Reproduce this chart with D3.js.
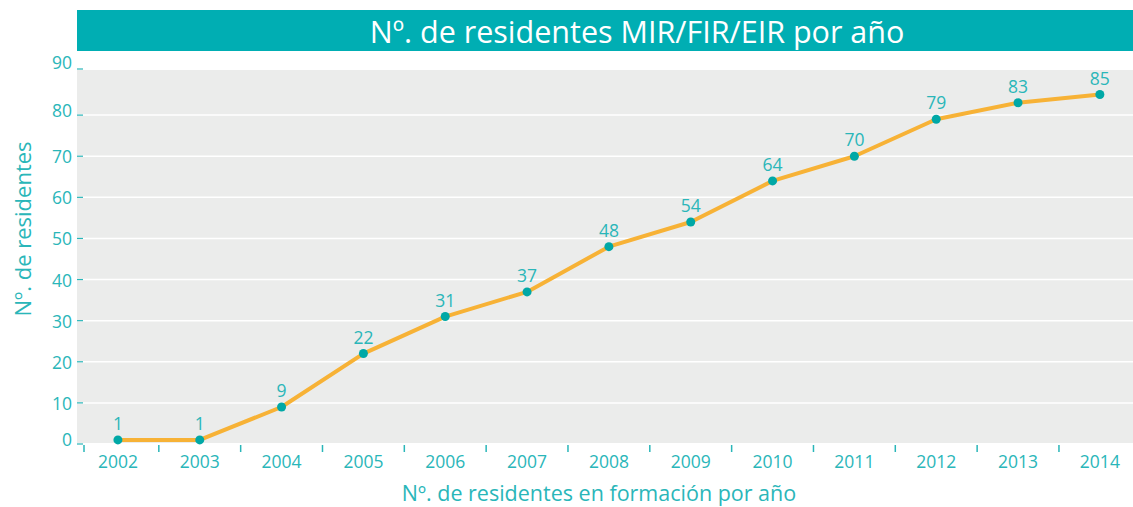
<!DOCTYPE html>
<html>
<head>
<meta charset="utf-8">
<script src="https://cdn.jsdelivr.net/npm/d3@7"></script>
<style>
  body { margin: 0; background: #fff; }
  svg { display: block; font-family: "Open Sans", sans-serif; }
</style>
</head>
<body>
<svg id="chart" width="1133" height="507"></svg>
<script>
// data
var years = ['2002', '2003', '2004', '2005', '2006', '2007', '2008', '2009', '2010', '2011', '2012', '2013', '2014']
var residents = [1, 1, 9, 22, 31, 37, 48, 54, 64, 70, 79, 83, 85]
var yTicks = [0, 10, 20, 30, 40, 50, 60, 70, 80, 90]
var title = 'Nº. de residentes MIR/FIR/EIR por año'
var xTitle = 'Nº. de residentes en formación por año'
var yTitle = 'Nº. de residentes'

// colors
var colorTeal = '#00aeb3'
var colorText = '#2ab6b9'
var colorLine = '#f7b236'
var colorDot = '#00a8a6'
var colorPlot = '#ebeceb'

var svg = d3.select('#chart')
var plotLeft = 77, plotTop = 70, plotBottom = 443, plotRight = 1133

var x = d3.scaleBand().domain(years).range([plotLeft, plotLeft + 13 * 81.83])
var y = d3.scaleLinear().domain([0, 90]).range([444, 74])

// title bar
svg.append('rect')
  .attr('x', plotLeft).attr('y', 10).attr('width', plotRight - plotLeft).attr('height', 41)
  .attr('fill', colorTeal)
svg.append('text')
  .attr('x', 637).attr('y', 31)
  .attr('text-anchor', 'middle').attr('dominant-baseline', 'central')
  .attr('fill', '#fff').attr('font-size', 30.5)
  .text(title)

// plot background
svg.append('rect')
  .attr('x', plotLeft).attr('y', plotTop).attr('width', plotRight - plotLeft).attr('height', plotBottom - plotTop)
  .attr('fill', colorPlot)

// gridlines
svg.selectAll('.grid')
  .data(yTicks.filter(function(d) { return d > 0 && d < 90 }))
  .enter().append('line')
  .attr('x1', plotLeft).attr('x2', plotRight)
  .attr('y1', function(d) { return y(d) }).attr('y2', function(d) { return y(d) })
  .attr('stroke', '#fff').attr('stroke-width', 1.5)

// y axis ticks + labels
var yAxis = svg.append('g')
yAxis.selectAll('line')
  .data(yTicks)
  .enter().append('line')
  .attr('x1', plotLeft).attr('x2', plotLeft + 6)
  .attr('y1', function(d) { return d === 90 ? plotTop - 1 : y(d) })
  .attr('y2', function(d) { return d === 90 ? plotTop - 1 : y(d) })
  .attr('stroke', colorText).attr('stroke-width', 1.2)
yAxis.selectAll('text')
  .data(yTicks)
  .enter().append('text')
  .attr('x', 72)
  .attr('y', function(d) { return d === 90 ? plotTop - 8 : d === 0 ? y(d) - 5 : d === 80 ? y(d) - 5 : y(d) })
  .attr('text-anchor', 'end').attr('dominant-baseline', 'central')
  .attr('fill', colorText).attr('font-size', 17.5)
  .text(function(d) { return d })

// x axis ticks + labels
var xAxis = svg.append('g')
xAxis.selectAll('line')
  .data(years)
  .enter().append('line')
  .attr('x1', function(d, i) { return i === 0 ? x(d) + 7 : x(d) })
  .attr('x2', function(d, i) { return i === 0 ? x(d) + 7 : x(d) })
  .attr('y1', 445).attr('y2', 452)
  .attr('stroke', colorText).attr('stroke-width', 1.5)
xAxis.selectAll('text')
  .data(years)
  .enter().append('text')
  .attr('x', function(d) { return x(d) + x.bandwidth() / 2 })
  .attr('y', 461)
  .attr('text-anchor', 'middle').attr('dominant-baseline', 'central')
  .attr('fill', colorText).attr('font-size', 17.5)
  .text(function(d) { return d })

// axis titles
svg.append('text')
  .attr('x', 599).attr('y', 492)
  .attr('text-anchor', 'middle').attr('dominant-baseline', 'central')
  .attr('fill', colorText).attr('font-size', 21.5)
  .text(xTitle)
svg.append('text')
  .attr('transform', 'translate(22,229) rotate(-90)')
  .attr('text-anchor', 'middle').attr('dominant-baseline', 'central')
  .attr('fill', colorText).attr('font-size', 22)
  .text(yTitle)

// line
var points = years.map(function(d, i) { return { year: d, value: residents[i] } })
var line = d3.line()
  .x(function(d) { return x(d.year) + x.bandwidth() / 2 })
  .y(function(d) { return y(d.value) })
svg.append('path')
  .datum(points)
  .attr('d', line)
  .attr('fill', 'none').attr('stroke', colorLine).attr('stroke-width', 4)
  .attr('stroke-linejoin', 'round')

// dots
svg.selectAll('.dot')
  .data(points)
  .enter().append('circle')
  .attr('cx', function(d) { return x(d.year) + x.bandwidth() / 2 })
  .attr('cy', function(d) { return y(d.value) })
  .attr('r', 4.5)
  .attr('fill', colorDot)

// value labels
svg.selectAll('.val')
  .data(points)
  .enter().append('text')
  .attr('x', function(d) { return x(d.year) + x.bandwidth() / 2 })
  .attr('y', function(d) { return y(d.value) - 17 })
  .attr('text-anchor', 'middle').attr('dominant-baseline', 'central')
  .attr('fill', colorText).attr('font-size', 17.5)
  .text(function(d) { return d.value })
</script>
</body>
</html>
